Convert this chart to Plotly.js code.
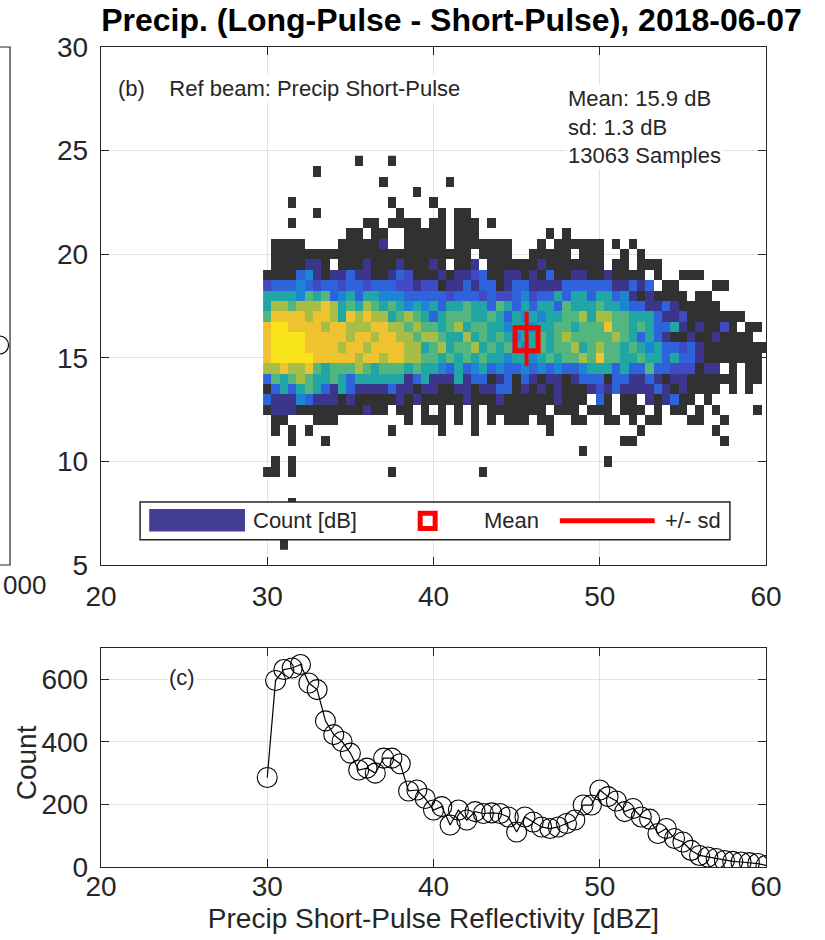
<!DOCTYPE html>
<html>
<head>
<meta charset="utf-8">
<script src="https://cdn.plot.ly/plotly-3.0.1.min.js"></script>
<style>
  html, body { margin: 0; padding: 0; background: #fff; }
  #chart { width: 825px; height: 940px; }
</style>
</head>
<body>
<div id="chart"></div>
<script>
// ---------------- DATA ----------------
// 2-D histogram (panel b): reflectivity bins 30..60 dBZ (step 0.5), difference bins 6..24.5 dB (step 0.5)
// Each row = one difference bin (top row = 24.5 dB). Characters = colour level of Count [dB]
// '.' empty, '0' lowest (1 count, dark grey), '1'..'9' increasing parula levels.
const xBinStart = 30, xBinStep = 0.5;
const yBinStart = 6,  yBinStep = 0.5;
const histRowsTopDown = [
  ".......... .0...0.... .......... .......... .......... .......... .", // 24.5
  "......0... .......... .......... .......... .......... .......... .", // 24
  ".......... ....0..... ..0....... .......... .......... .......... .", // 23.5
  ".......... ........0. .......... .......... .......... .......... .", // 23
  "...0...... .....0.... 0......... .......... .......... .......... .", // 22.5
  "......0... ......0... .0.00..... .......... .......... .......... .", // 22
  "...0...... ..00.0000. 00.000.0.. .......... .......... .......... .", // 21.5
  ".......... 00.00..000 00.000.... ....0.0... .......... .......... .", // 21
  ".0000....0 00001..000 00.0000000 ...0.00000 0.0.0..... .......... .", // 20.5
  ".000000000 0000000000 00000.0000 ..00000.00 0..0.0.... .......... .", // 20
  ".0000110.0 0010001000 10.001.000 0001000000 0.00.000.. .......... .", // 19.5
  "0000341011 3110013200 0101123001 1010300110 010000.0.. 000....... .", // 19
  "2333432332 3323332212 2011313301 3311113333 3311313.00 ....00.... .", // 18.5
  "5555465634 5355444333 3323332322 3423353553 5534101000 0.00...... .", // 18
  "5776777875 6576565454 5355655365 3535536555 6554331131 00000..... .", // 17.5
  "6888878875 8787756765 3566655653 5454556675 7766555311 20000000.. .", // 17
  "8998888788 7778877676 6567566554 5545566566 6866565335 1010020.00 .", // 16.5
  "8999988888 7887887767 7655756565 4556567666 6676535310 010010000. .", // 16
  "8999988887 8878888775 6756675656 5456566756 7665654533 2310000000 0", // 15.5
  "8999998888 8788788776 6565656554 5545656676 8665565535 3310000000 .", // 15
  "7787786566 6765666565 5435345343 3434343345 5535336332 22011.0.00 .", // 14.5
  "3656765565 3555555135 1115133013 0310110133 3033113101 1000000.00 .", // 14
  "0353565315 3111131101 1001101133 0101010001 2131111310 10000.0.0. .", // 13.5
  "3111431110 1000001010 0000100010 000001000. 30.00.1013 00.0...... .", // 13
  "0111000000 00100.00.0 .0.0.0.000 0000.000.0 00.000.0.0 0.0.0....0 .", // 12.5
  ".00...000. .......0.0 00.0.0.0.0 00.00..00. .00.0.00.. .00..0.... .", // 12
  ".0.0.0.... .....0.... .0...0.... ....0..... .....0.... ....0..... .", // 11.5
  "...0...0.. .......... .......... .......... ...00..... .....0.... .", // 11
  ".......... .......... .......... ........0. .......... .......... .", // 10.5
  ".0.0...... .......... .......... .......... .0........ .......... .", // 10
  "00.0...... .....0.... ......0... .......... .......... .......... .", // 9.5
  ".......... .......... .......... .......... .......... .......... .", // 9
  ".......... .......... .......... .......... .......... .......... .", // 8.5
  "...0...... .......... .......... .......... .......... .......... .", // 8
  ".......... .......... .......... .......... .......... .......... .", // 7.5
  ".......... .......... .......... .......... .......... .......... .", // 7
  ".......... .......... .......... .......... .......... .......... .", // 6.5
  "..0....... .......... .......... .......... .......... .......... ."  // 6
];
// colour for each level 0..9 (grey + parula)
const levelColors = ["#313131", "#3b368c", "#3f4ac4", "#2f63dc", "#1d86d3",
                     "#20a6a4", "#52b67e", "#a6bd46", "#efc230", "#f9e41c"];

// mean / sd (panel b)
const meanX = 45.6, meanY = 15.9, sdY = 1.3;

// panel c: counts per reflectivity bin
const reflBins = [30,30.5,31,31.5,32,32.5,33,33.5,34,34.5,35,35.5,36,36.5,37,37.5,38,38.5,39,39.5,
                  40,40.5,41,41.5,42,42.5,43,43.5,44,44.5,45,45.5,46,46.5,47,47.5,48,48.5,49,49.5,
                  50,50.5,51,51.5,52,52.5,53,53.5,54,54.5,55,55.5,56,56.5,57,57.5,58,58.5,59,59.5,60];
const counts = [286,596,631,636,647,588,567,467,423,401,364,310,316,300,348,348,330,243,246,219,
                182,193,134,182,150,177,171,173,171,160,112,160,144,128,123,128,139,150,198,198,
                246,225,211,177,187,160,153,107,123,91,80,53,37,32,27,21,18,16,14,11,5];

const xTicks = [20, 30, 40, 50, 60];
const yTicksB = [5, 10, 15, 20, 25, 30];
const yTicksC = [0, 200, 400, 600];

// ---------------- BUILD ----------------
const FONT = "Liberation Sans, Arial, Helvetica, sans-serif";
const TXT = "#262626";

const z = histRowsTopDown.slice().reverse().map(r =>
  r.replace(/ /g, "").split("").map(ch => ch === "." ? null : Number(ch)));

const cs = [];
levelColors.forEach((c, i) => { cs.push([i / 10, c]); cs.push([(i + 1) / 10, c]); });

const heat = {
  type: "heatmap", z: z, x0: xBinStart, dx: xBinStep, y0: yBinStart, dy: yBinStep,
  colorscale: cs, zmin: -0.5, zmax: 9.5, showscale: false, zsmooth: false,
  hoverinfo: "skip", xaxis: "x", yaxis: "y"
};
const meanTr = {
  type: "scatter", mode: "markers", x: [meanX], y: [meanY], xaxis: "x", yaxis: "y",
  marker: { symbol: "square-open", size: 23, color: "#ff0000", line: { width: 5, color: "#ff0000" } },
  error_y: { type: "data", array: [sdY], visible: true, color: "#ff0000", thickness: 4, width: 0 },
  showlegend: false, hoverinfo: "skip"
};
const countTr = {
  type: "scatter", mode: "lines+markers", x: reflBins, y: counts, xaxis: "x2", yaxis: "y2",
  line: { color: "#000000", width: 1.2 },
  marker: { symbol: "circle-open", size: 20, color: "#000000", line: { width: 1.1, color: "#000000" } },
  showlegend: false, hoverinfo: "skip"
};

const axBase = {
  showline: true, linecolor: TXT, linewidth: 1.2, mirror: "ticks",
  ticks: "inside", ticklen: 8, tickcolor: TXT, tickwidth: 1.2,
  showgrid: true, gridcolor: "#e2e2e2", gridwidth: 1, zeroline: false,
  tickfont: { family: FONT, size: 28, color: TXT }, fixedrange: true
};

const layout = {
  width: 825, height: 940,
  margin: { l: 101, r: 59, t: 47, b: 73, pad: 0 },
  paper_bgcolor: "#ffffff", plot_bgcolor: "#ffffff",
  showlegend: false,
  title: {
    text: "<b>Precip. (Long-Pulse - Short-Pulse), 2018-06-07</b>",
    font: { family: FONT, size: 32, color: "#000000" },
    xref: "paper", x: 0.527, xanchor: "center",
    yref: "container", y: 0.979, yanchor: "middle"
  },
  xaxis: Object.assign({}, axBase, { domain: [0, 1], range: [20, 60], tickvals: xTicks, anchor: "y", ticklabelstandoff: 6 }),
  yaxis: Object.assign({}, axBase, { domain: [0.3683, 1], range: [5, 30], tickvals: yTicksB, anchor: "x", ticklabelstandoff: 6 }),
  xaxis2: Object.assign({}, axBase, {
    domain: [0, 1], range: [20, 60], tickvals: xTicks, anchor: "y2", ticklabelstandoff: -6,
    title: { text: "Precip Short-Pulse Reflectivity [dBZ]", font: { family: FONT, size: 28, color: TXT }, standoff: 7 }
  }),
  yaxis2: Object.assign({}, axBase, {
    domain: [0, 0.2671], range: [0, 700], tickvals: yTicksC, anchor: "x2", ticklabelstandoff: 6
  }),
  shapes: [
    // legend box (panel b)
    { type: "rect", xref: "x", yref: "y", x0: 22.35, x1: 57.83, y0: 6.22, y1: 8.04,
      line: { color: TXT, width: 1.5 }, fillcolor: "#ffffff", layer: "above" },
    { type: "rect", xref: "x", yref: "y", x0: 22.9, x1: 28.66, y0: 6.62, y1: 7.7,
      line: { width: 0 }, fillcolor: "#433e92", layer: "above" },
    { type: "rect", xref: "x", yref: "y", x0: 39.2, x1: 40.1, y0: 6.76, y1: 7.5,
      line: { color: "#ff0000", width: 5 }, fillcolor: "#ffffff", layer: "above" },
    { type: "line", xref: "x", yref: "y", x0: 47.6, x1: 53.3, y0: 7.13, y1: 7.13,
      line: { color: "#ff0000", width: 5 }, layer: "above" },
    // cut-off neighbouring panel on the left
    { type: "path", xref: "paper", yref: "paper",
      path: "M -0.152,1 L -0.1368,1 L -0.1368,0.3683 L -0.152,0.3683",
      line: { color: TXT, width: 1.2 }, layer: "above" },
    { type: "circle", xref: "paper", yref: "paper", x0: -0.166, x1: -0.139, y0: 0.6256, y1: 0.6476,
      line: { color: "#000000", width: 1.2 }, layer: "above" }
  ],
  annotations: [
    { xref: "x", yref: "y", x: 20.9, y: 28.0, xanchor: "left", yanchor: "middle", showarrow: false,
      text: "(b)    Ref beam: Precip Short-Pulse", bgcolor: "#ffffff",
      font: { family: FONT, size: 22, color: TXT } },
    { xref: "x", yref: "y", x: 47.95, y: 26.12, xanchor: "left", yanchor: "middle", showarrow: false,
      align: "left", text: "Mean: 15.9 dB<br>sd: 1.3 dB<br>13063 Samples", bgcolor: "#ffffff",
      font: { family: FONT, size: 22, color: TXT } },
    { xref: "x", yref: "y", x: 29.05, y: 7.13, xanchor: "left", yanchor: "middle", showarrow: false,
      text: "Count [dB]", font: { family: FONT, size: 22, color: TXT } },
    { xref: "x", yref: "y", x: 42.9, y: 7.13, xanchor: "left", yanchor: "middle", showarrow: false,
      text: "Mean", font: { family: FONT, size: 22, color: TXT } },
    { xref: "x", yref: "y", x: 53.8, y: 7.13, xanchor: "left", yanchor: "middle", showarrow: false,
      text: "+/- sd", font: { family: FONT, size: 22, color: TXT } },
    { xref: "x2", yref: "y2", x: 23.95, y: 607, xanchor: "left", yanchor: "middle", showarrow: false,
      text: "(c)", bgcolor: "#ffffff", font: { family: FONT, size: 22, color: TXT } },
    // y-axis title of panel c
    { xref: "paper", yref: "paper", x: -0.1115, y: 0.1275, xanchor: "center", yanchor: "middle", showarrow: false,
      textangle: -90, text: "Count", font: { family: FONT, size: 28, color: TXT } },
    // tick label of the cut-off left panel
    { xref: "paper", yref: "paper", x: -0.1505, y: 0.344, xanchor: "left", yanchor: "middle", showarrow: false,
      text: "000", font: { family: FONT, size: 26, color: TXT } }
  ]
};

Plotly.newPlot("chart", [heat, meanTr, countTr], layout, { displayModeBar: false, staticPlot: true });
</script>
</body>
</html>
